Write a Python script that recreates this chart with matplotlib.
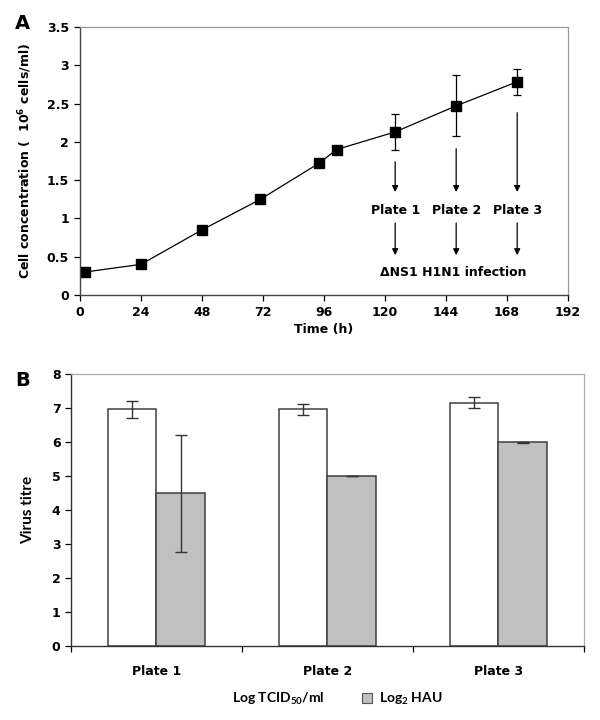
import matplotlib
matplotlib.use("Agg")
import matplotlib.pyplot as plt
from matplotlib.patches import Patch
import numpy as np

plt.rcParams['font.family'] = ['DejaVu Sans']
plt.rcParams['font.weight'] = 'bold'
plt.rcParams['mathtext.default'] = 'regular'

# Panel A data
time_h = [2, 24, 48, 71, 94, 101, 124, 148, 172]
cells = [0.30, 0.40, 0.85, 1.25, 1.72, 1.90, 2.13, 2.47, 2.785]
cells_err = [0.0, 0.0, 0.0, 0.05, 0.0, 0.0, 0.23, 0.40, 0.17]
plate_times = [124, 148, 172]
plate_names = ["Plate 1", "Plate 2", "Plate 3"]
arrow_tops = [1.74, 1.91, 2.38]
x_ticks_a = [0, 24, 48, 72, 96, 120, 144, 168, 192]
y_ticks_a = [0, 0.5, 1, 1.5, 2, 2.5, 3, 3.5]
y_ticklabels_a = ["0", "0.5", "1", "1.5", "2", "2.5", "3", "3.5"]

# Panel B data
plates = ["Plate 1", "Plate 2", "Plate 3"]
tcid50 = [6.97, 6.97, 7.17]
tcid50_err = [0.25, 0.16, 0.17]
hau = [4.50, 5.00, 6.00]
hau_err = [1.72, 0.0, 0.01]

FS = 9

fig = plt.figure(figsize=(6, 7.2), dpi=100)

# ---------- Panel A ----------
axA = fig.add_axes([0.1333, 0.5903, 0.8134, 0.3722])
axA.errorbar(time_h, cells, yerr=cells_err, color='black', lw=0.9,
             marker='s', markersize=7, mfc='black', mec='black',
             ecolor='black', elinewidth=0.9, capsize=3, capthick=0.9)
axA.set_xlim(0, 192)
axA.set_ylim(0, 3.5)
axA.set_xticks(x_ticks_a)
axA.set_yticks(y_ticks_a)
axA.set_yticklabels(y_ticklabels_a)
axA.tick_params(axis='both', direction='out', length=4, width=0.9,
                labelsize=FS, pad=4)
for lab in axA.get_xticklabels() + axA.get_yticklabels():
    lab.set_fontweight('bold')
for s in ['left', 'bottom']:
    axA.spines[s].set_color('#444444')
    axA.spines[s].set_linewidth(1.0)
for s in ['top', 'right']:
    axA.spines[s].set_color('#999999')
    axA.spines[s].set_linewidth(0.9)
axA.set_xlabel("Time (h)", fontsize=FS, fontweight='bold', labelpad=3)
axA.set_ylabel("Cell concentration (  10$^6$ cells/ml)", fontsize=FS,
               fontweight='bold', labelpad=9)

for t, top, name in zip(plate_times, arrow_tops, plate_names):
    axA.annotate("", xy=(t, 1.345), xytext=(t, top),
                 arrowprops=dict(arrowstyle='-|>', color='black', lw=0.9,
                                 mutation_scale=9, shrinkA=0, shrinkB=0))
    axA.text(t, 1.10, name, ha='center', va='center', fontsize=FS,
             fontweight='bold')
    axA.annotate("", xy=(t, 0.52), xytext=(t, 0.94),
                 arrowprops=dict(arrowstyle='-|>', color='black', lw=0.9,
                                 mutation_scale=9, shrinkA=0, shrinkB=0))
axA.text(147, 0.30, "\u0394NS1 H1N1 infection", ha='center', va='center',
         fontsize=FS, fontweight='bold')
fig.text(0.025, 0.967, "A", fontsize=14, fontweight='bold', ha='left', va='center')

# ---------- Panel B ----------
axB = fig.add_axes([0.118, 0.1028, 0.855, 0.3772])
x = np.arange(len(plates))
w = 0.285
ekw = dict(ecolor='#333333', elinewidth=1.0, capsize=4, capthick=1.0)
axB.bar(x - w / 2, tcid50, width=w, color='white', edgecolor='#404040',
        linewidth=1.1, yerr=tcid50_err, error_kw=ekw, zorder=2)
axB.bar(x + w / 2, hau, width=w, color='#c0c0c0', edgecolor='#404040',
        linewidth=1.1, yerr=hau_err, error_kw=ekw, zorder=2)
axB.set_xlim(-0.5, 2.5)
axB.set_ylim(0, 8)
axB.set_yticks(range(0, 9))
axB.set_xticks([-0.5, 0.5, 1.5, 2.5])
axB.set_xticklabels([])
axB.set_xticks(x, minor=True)
axB.set_xticklabels(plates, minor=True, fontsize=FS, fontweight='bold')
axB.tick_params(axis='x', which='minor', length=0, pad=14)
axB.tick_params(axis='x', which='major', direction='out', length=4, width=0.9)
axB.tick_params(axis='y', direction='out', length=4, width=0.9, labelsize=FS)
for lab in axB.get_yticklabels():
    lab.set_fontweight('bold')
for s in ['left', 'bottom']:
    axB.spines[s].set_color('#333333')
    axB.spines[s].set_linewidth(1.0)
for s in ['top', 'right']:
    axB.spines[s].set_color('#aaaaaa')
    axB.spines[s].set_linewidth(0.9)
axB.set_ylabel("Virus titre", fontsize=11, fontweight='bold',
               family=['Lato', 'DejaVu Sans'], labelpad=12)
fig.text(0.025, 0.472, "B", fontsize=14, fontweight='bold', ha='left', va='center')

handles = [Patch(facecolor='white', edgecolor='white', linewidth=0.8),
           Patch(facecolor='#c0c0c0', edgecolor='#555555', linewidth=0.8)]
leg = fig.legend(handles, ["Log TCID$_{50}$/ml", "Log$_2$ HAU"], ncol=2,
                 loc='center', bbox_to_anchor=(0.548, 0.029), frameon=False,
                 handlelength=0.7, handleheight=0.7, columnspacing=2.7,
                 handletextpad=0.5,
                 prop=dict(family=['Lato', 'DejaVu Sans'], weight='bold', size=10))

fig.savefig("out.png", dpi=100)
